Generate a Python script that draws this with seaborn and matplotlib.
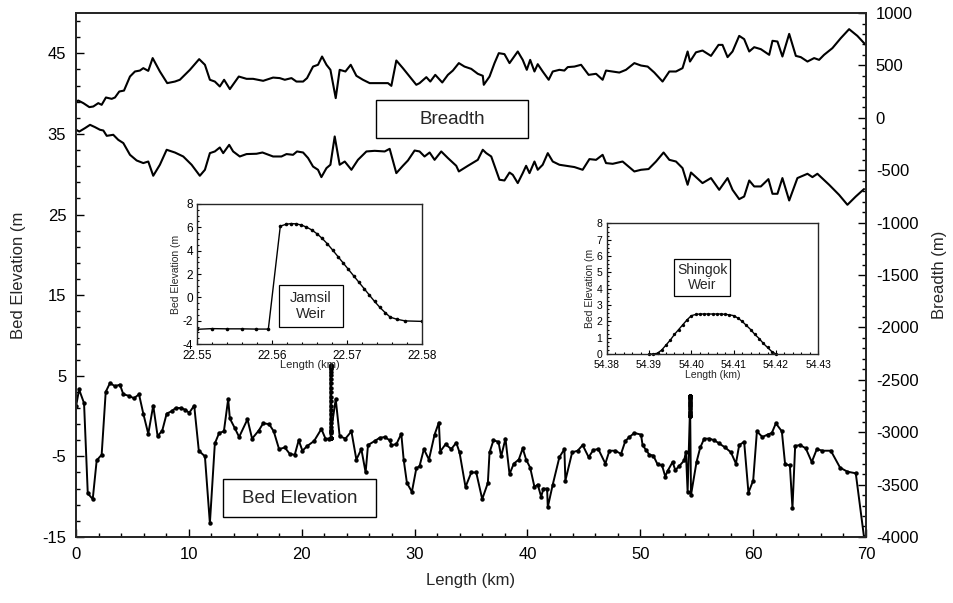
import numpy as np
import pandas as pd
import matplotlib
matplotlib.use("Agg")
import matplotlib.pyplot as plt
from matplotlib.ticker import MultipleLocator, FixedLocator, FormatStrFormatter
from matplotlib.patches import Rectangle
import seaborn as sns

# ---------------- data ----------------
bed_km = [0.0, 0.27, 0.71, 1.04, 1.48, 1.83, 2.27, 2.63, 3.01, 3.45, 3.89, 4.19, 4.72, 5.13, 5.58,
          5.96, 6.40, 6.84, 7.23, 7.64, 8.03, 8.47, 8.82, 9.27, 9.65, 10.03, 10.47, 10.88, 11.42, 11.86,
          12.30, 12.68, 13.10, 13.48, 13.63, 14.07, 14.45, 15.19, 15.60, 16.19, 16.58, 17.11, 17.52, 17.99,
          18.50, 18.94, 19.38, 19.73, 20.06, 20.50, 21.09, 21.74, 22.10, 22.45,
          23.01, 23.36, 23.87, 24.40, 24.84, 25.28, 25.66, 25.87, 26.46, 26.90, 27.35, 27.79, 27.94, 28.38,
          28.82, 29.03, 29.32, 29.76, 30.15, 30.44, 30.82, 31.27, 31.77, 32.15, 32.27, 32.74, 33.25, 33.69,
          33.98, 34.51, 35.02, 35.46, 35.99, 36.49, 36.64, 36.99, 37.43, 37.67, 38.05, 38.41, 38.79, 39.23,
          39.58, 39.88, 40.24, 40.62, 40.91, 41.21, 41.42, 41.74, 41.80, 42.24, 42.83, 43.27, 43.36, 43.96,
          44.45, 44.89, 45.42, 45.84, 46.28, 46.90, 47.26, 47.79, 48.29, 48.67, 49.03, 49.47, 50.06, 50.20,
          50.50, 50.80, 51.15, 51.53, 51.92, 52.21, 52.42, 52.86, 53.10, 53.45, 53.89, 54.04, 54.19,
          54.49, 54.98, 55.31, 55.66, 56.11, 56.55, 56.99, 57.52, 58.03, 58.47, 58.76, 59.20, 59.58, 60.00,
          60.33, 60.82, 61.27, 61.65, 62.01, 62.54, 62.83, 63.25, 63.48, 63.72, 64.16, 64.66, 65.19, 65.64,
          66.13, 66.88, 67.70, 68.35, 69.09, 69.82]
bed_elev = [1.2, 3.3, 1.6, -9.6, -10.3, -5.5, -4.8, 3.0, 4.1, 3.7, 3.9, 2.7, 2.5, 2.2, 2.7,
            0.3, -2.2, 1.3, -2.5, -1.8, 0.3, 0.6, 1.0, 1.0, 0.8, 0.4, 1.3, -4.3, -5.0, -13.3,
            -3.4, -2.1, -1.9, 2.1, -0.3, -1.5, -2.6, -0.4, -2.8, -1.8, -0.9, -1.0, -1.9, -4.1,
            -3.9, -4.7, -4.8, -3.0, -4.3, -3.7, -3.1, -1.6, -2.8, -2.8,
            2.1, -2.5, -2.8, -1.9, -5.4, -4.1, -7.0, -3.6, -3.1, -2.7, -2.6, -3.0, -3.6, -3.5,
            -2.2, -5.4, -8.3, -9.4, -6.5, -6.2, -4.1, -5.4, -2.3, -0.8, -4.4, -3.5, -4.1, -3.3,
            -4.5, -8.8, -7.0, -7.0, -10.3, -8.3, -4.5, -3.0, -3.2, -5.0, -2.8, -7.2, -5.9, -5.4,
            -4.0, -5.4, -6.4, -8.8, -8.5, -10.0, -9.0, -9.0, -11.3, -8.5, -5.1, -4.1, -8.0, -4.5,
            -4.3, -3.6, -5.1, -4.2, -4.1, -5.9, -4.3, -4.3, -4.7, -3.1, -2.6, -2.1, -2.3, -3.6,
            -4.2, -4.8, -4.9, -6.0, -6.1, -7.5, -6.8, -5.7, -6.7, -6.2, -5.5, -4.4, -9.4,
            -9.8, -5.7, -3.9, -2.8, -2.8, -3.0, -3.4, -3.9, -4.5, -5.9, -3.6, -3.2, -9.5, -8.0,
            -1.9, -2.6, -2.3, -2.1, -0.9, -1.9, -6.0, -6.1, -11.4, -3.7, -3.6, -4.0, -5.7, -4.1,
            -4.3, -4.3, -6.4, -6.9, -7.1, -15.0]

jamsil_km = [22.5500, 22.5520, 22.5540, 22.5560, 22.5578, 22.5595, 22.5611, 22.5618, 22.5625, 22.5632,
             22.5639, 22.5646, 22.5653, 22.5660, 22.5667, 22.5674, 22.5681, 22.5688, 22.5695, 22.5702,
             22.5709, 22.5716, 22.5723, 22.5730, 22.5737, 22.5744, 22.5751, 22.5758, 22.5767, 22.5778,
             22.5800]
jamsil_elev = [-2.74, -2.68, -2.70, -2.70, -2.72, -2.72, 6.10, 6.25, 6.32, 6.30,
               6.20, 6.02, 5.78, 5.45, 5.05, 4.58, 4.05, 3.50, 2.95, 2.40,
               1.85, 1.30, 0.75, 0.20, -0.35, -0.85, -1.30, -1.70, -1.88, -2.02,
               -2.06]

shingok_km = [54.3900, 54.3910, 54.3920, 54.3930, 54.3940, 54.3950, 54.3960, 54.3970, 54.3980, 54.3990,
              54.4000, 54.4010, 54.4020, 54.4030, 54.4040, 54.4050, 54.4060, 54.4070, 54.4080, 54.4090,
              54.4100, 54.4110, 54.4120, 54.4130, 54.4140, 54.4150, 54.4160, 54.4170, 54.4180, 54.4190,
              54.4200]
shingok_elev = [0.00, 0.00, 0.05, 0.25, 0.55, 0.85, 1.20, 1.50, 1.80, 2.10,
                2.35, 2.42, 2.45, 2.45, 2.45, 2.45, 2.45, 2.45, 2.43, 2.40,
                2.35, 2.20, 2.00, 1.75, 1.50, 1.20, 0.95, 0.65, 0.40, 0.15,
                0.00]

up_km = [0.0, 0.2, 0.65, 1.18, 1.53, 1.97, 2.27, 2.65, 3.16, 3.45,
         3.83, 4.25, 4.78, 5.22, 5.66, 5.96, 6.40, 6.79, 7.43, 8.08,
         8.76, 9.20, 10.09, 10.91, 11.42, 11.86, 12.30, 12.74, 13.12, 13.63,
         14.42, 15.11, 15.69, 16.58, 17.46, 18.05, 18.50, 19.09, 19.53, 20.12,
         20.47, 21.00, 21.44, 21.80, 22.19, 22.54, 23.01, 23.36, 23.87, 24.34,
         24.84, 25.42, 26.02, 26.90, 27.64, 27.94, 28.38, 28.96, 29.56, 30.15,
         30.44, 31.04, 31.39, 31.83, 32.45, 32.95, 33.39, 33.92, 34.42, 35.02,
         35.60, 36.04, 36.13, 36.64, 37.08, 37.46, 37.96, 38.41, 39.14, 39.58,
         39.94, 40.24, 40.62, 40.91, 41.35, 41.88, 42.24, 42.83, 43.27, 43.57,
         44.16, 44.75, 45.42, 46.08, 46.66, 46.96, 47.55, 48.14, 48.73, 49.47,
         50.06, 50.65, 51.24, 51.97, 52.57, 53.16, 53.74, 54.19, 54.40, 54.93,
         55.51, 56.26, 56.93, 57.28, 57.73, 58.17, 58.76, 59.20, 59.65, 60.09,
         60.68, 61.42, 61.71, 62.15, 62.59, 63.19, 63.78, 64.22, 64.81, 65.40,
         65.84, 66.28, 67.02, 67.76, 68.50, 69.23, 69.97]
up_m = [155, 165, 140, 102, 108, 140, 124, 194, 181, 194,
        251, 260, 394, 442, 451, 474, 448, 570, 442, 331,
        346, 363, 458, 560, 506, 363, 346, 299, 363, 274,
        394, 372, 372, 353, 384, 379, 363, 379, 346, 346,
        379, 489, 506, 585, 506, 458, 188, 458, 442, 506,
        401, 363, 331, 331, 331, 305, 547, 474, 394, 315,
        331, 388, 346, 410, 337, 410, 451, 522, 489, 467,
        420, 401, 315, 394, 522, 617, 608, 522, 633, 553,
        458, 553, 442, 512, 442, 363, 442, 458, 451, 484,
        489, 506, 410, 420, 363, 451, 442, 432, 458, 522,
        499, 489, 432, 346, 442, 442, 474, 633, 537, 625,
        642, 591, 696, 696, 579, 633, 782, 751, 633, 674,
        655, 601, 735, 728, 585, 801, 591, 579, 537, 570,
        553, 601, 665, 760, 846, 782, 696]

lo_km = [0.0, 0.29, 0.80, 1.24, 1.68, 2.12, 2.42, 2.72, 3.30, 3.74,
         4.19, 4.78, 5.37, 5.96, 6.40, 6.84, 7.43, 8.03, 8.76, 9.50,
         10.24, 10.97, 11.42, 11.86, 12.30, 12.74, 13.04, 13.57, 13.92, 14.51,
         15.11, 15.99, 16.52, 17.46, 18.20, 18.65, 19.23, 19.58, 20.12, 20.56,
         21.00, 21.44, 21.74, 22.19, 22.54, 22.92, 23.36, 23.81, 24.40, 24.98,
         25.73, 26.46, 27.35, 27.79, 28.38, 28.96, 29.41, 30.00, 30.44, 30.88,
         31.33, 31.77, 32.36, 32.95, 33.69, 33.92, 34.72, 35.60, 36.04, 36.35,
         36.79, 37.52, 37.96, 38.41, 38.70, 39.14, 39.58, 39.88, 40.18, 40.62,
         40.91, 41.35, 41.80, 42.24, 42.83, 43.42, 44.16, 44.89, 45.49, 46.08,
         46.66, 46.96, 47.55, 48.43, 49.47, 50.06, 50.73, 51.39, 52.06, 52.57,
         53.16, 53.74, 54.19, 54.49, 54.93, 55.51, 56.26, 56.99, 57.73, 58.17,
         58.76, 59.20, 59.65, 60.09, 60.68, 61.35, 61.71, 62.15, 62.59, 63.19,
         63.92, 64.81, 65.25, 65.69, 66.73, 67.61, 68.35, 69.09, 69.82]
lo_m = [-114, -131, -98, -67, -89, -114, -121, -172, -162, -210,
        -241, -353, -407, -432, -417, -553, -448, -305, -331, -369,
        -448, -553, -496, -337, -321, -283, -337, -258, -321, -369,
        -346, -343, -331, -369, -369, -346, -353, -321, -331, -384,
        -465, -496, -566, -480, -448, -178, -448, -417, -496, -401,
        -321, -315, -321, -296, -528, -458, -407, -312, -321, -369,
        -331, -401, -321, -384, -458, -512, -458, -401, -305, -337,
        -369, -591, -598, -522, -544, -623, -528, -458, -528, -417,
        -496, -448, -337, -417, -448, -458, -470, -496, -394, -401,
        -353, -432, -439, -417, -512, -496, -489, -417, -331, -401,
        -417, -480, -639, -522, -566, -623, -575, -687, -575, -687,
        -776, -751, -598, -655, -655, -585, -725, -725, -575, -789,
        -575, -534, -566, -534, -639, -735, -830, -751, -680]

# ---------------- tables ----------------
bed = pd.DataFrame({"km": bed_km + jamsil_km + shingok_km,
                    "elev": bed_elev + jamsil_elev + shingok_elev}).sort_values("km")
upper = pd.DataFrame({"km": up_km, "m": up_m})
lower = pd.DataFrame({"km": lo_km, "m": lo_m})
jam = pd.DataFrame({"km": jamsil_km, "elev": jamsil_elev})
shi = pd.DataFrame({"km": shingok_km, "elev": shingok_elev})

sns.set_theme(style="ticks")
plt.rcParams['font.family'] = ['Liberation Sans', 'DejaVu Sans']
plt.rcParams['axes.linewidth'] = 1.3
plt.rcParams['axes.unicode_minus'] = False

fig = plt.figure(figsize=(9.54, 6.03), dpi=100)
ax = fig.add_axes([0.0797, 0.1095, 0.8281, 0.8689])

sns.lineplot(data=bed, x="km", y="elev", ax=ax, sort=False, estimator=None,
             color="black", linewidth=1.4, marker="o", markersize=3.2,
             markeredgewidth=0, markerfacecolor="black")
ax.set_xlim(0, 70)
ax.set_ylim(-15, 50)
ax.yaxis.set_major_locator(FixedLocator(np.arange(-15, 46, 10)))
ax.yaxis.set_minor_locator(FixedLocator(np.arange(-15, 50, 2)))
ax.xaxis.set_major_locator(MultipleLocator(10))
ax.xaxis.set_minor_locator(MultipleLocator(2))
ax.tick_params(which="both", direction="in", labelsize=12, width=1, colors="black")
ax.tick_params(which="major", length=6, pad=7)
ax.tick_params(which="minor", length=3)
ax.set_xlabel("Length (km)", fontsize=12, labelpad=8)
ax.set_ylabel("Bed Elevation (m", fontsize=12)
ax.yaxis.set_label_coords(-0.063, 0.5)

ax2 = ax.twinx()
sns.lineplot(data=upper, x="km", y="m", ax=ax2, sort=False, estimator=None,
             color="black", linewidth=1.5)
sns.lineplot(data=lower, x="km", y="m", ax=ax2, sort=False, estimator=None,
             color="black", linewidth=1.5)
ax2.set_ylim(-4000, 1000)
ax2.yaxis.set_major_locator(MultipleLocator(500))
ax2.yaxis.set_minor_locator(MultipleLocator(100))
ax2.tick_params(which="both", direction="in", labelsize=12, width=1, colors="black")
ax2.tick_params(which="major", length=6, pad=7)
ax2.tick_params(which="minor", length=3)
ax2.set_ylabel("Breadth (m)", fontsize=12)
ax2.yaxis.set_label_coords(1.083, 0.5)
ax2.set_xlim(0, 70)

# annotation boxes in main axes
for (x0, y0, w, h, label) in [(0.380, 0.761, 0.192, 0.0725, "Breadth"),
                               (0.1857, 0.0376, 0.194, 0.0725, "Bed Elevation")]:
    ax2.add_patch(Rectangle((x0, y0), w, h, transform=ax2.transAxes, facecolor="white",
                            edgecolor="black", linewidth=1.0, zorder=5))
    ax2.text(x0 + w / 2, y0 + h / 2, label, transform=ax2.transAxes, ha="center",
             va="center", fontsize=13.5, zorder=6)

# ---------------- inset: Jamsil ----------------
axj = fig.add_axes([0.2068, 0.4295, 0.2352, 0.2322])
sns.lineplot(data=jam, x="km", y="elev", ax=axj, sort=False, estimator=None,
             color="black", linewidth=1.0, marker="o", markersize=2.6,
             markeredgewidth=0, markerfacecolor="black")
axj.set_xlim(22.55, 22.58)
axj.set_ylim(-4, 8)
axj.xaxis.set_major_locator(FixedLocator([22.55, 22.56, 22.57, 22.58]))
axj.xaxis.set_major_formatter(FormatStrFormatter("%.2f"))
axj.xaxis.set_minor_locator(MultipleLocator(0.002))
axj.yaxis.set_major_locator(MultipleLocator(2))
axj.yaxis.set_minor_locator(MultipleLocator(0.5))
for s in axj.spines.values():
    s.set_linewidth(1.0)
axj.tick_params(which="both", direction="in", colors="black", width=0.8)
axj.tick_params(which="major", length=3)
axj.tick_params(which="minor", length=1.5)
axj.tick_params(axis="x", labelsize=8.5, pad=4)
axj.tick_params(axis="y", labelsize=8.5, pad=3)
axj.set_xlabel("Length (km)", fontsize=8, labelpad=-1)
axj.set_ylabel("Bed Elevation (m", fontsize=7.5, labelpad=1)
axj.add_patch(Rectangle((0.365, 0.119), 0.283, 0.302, transform=axj.transAxes,
                        facecolor="white", edgecolor="black", linewidth=0.9, zorder=5))
axj.text(0.365 + 0.283 / 2, 0.119 + 0.302 / 2, "Jamsil\nWeir", transform=axj.transAxes,
         ha="center", va="center", fontsize=10.5, linespacing=1.15, zorder=6)

# ---------------- inset: Shingok ----------------
axs = fig.add_axes([0.6360, 0.4129, 0.2218, 0.2167])
sns.lineplot(data=shi, x="km", y="elev", ax=axs, sort=False, estimator=None,
             color="black", linewidth=1.0, marker="o", markersize=2.4,
             markeredgewidth=0, markerfacecolor="black", clip_on=False)
axs.set_xlim(54.38, 54.43)
axs.set_ylim(0, 8)
axs.xaxis.set_major_locator(FixedLocator([54.38, 54.39, 54.40, 54.41, 54.42, 54.43]))
axs.xaxis.set_major_formatter(FormatStrFormatter("%.2f"))
axs.xaxis.set_minor_locator(MultipleLocator(0.002))
axs.yaxis.set_major_locator(MultipleLocator(1))
axs.yaxis.set_minor_locator(MultipleLocator(0.25))
for s in axs.spines.values():
    s.set_linewidth(1.0)
axs.tick_params(which="both", direction="in", colors="black", width=0.8)
axs.tick_params(which="major", length=3)
axs.tick_params(which="minor", length=1.5)
axs.tick_params(axis="x", labelsize=7.5, pad=4)
axs.tick_params(axis="y", labelsize=7.5, pad=3)
axs.set_xlabel("Length (km)", fontsize=7.5, labelpad=0)
axs.set_ylabel("Bed Elevation (m", fontsize=7.5, labelpad=1)
axs.add_patch(Rectangle((0.319, 0.446), 0.263, 0.279, transform=axs.transAxes,
                        facecolor="white", edgecolor="black", linewidth=0.9, zorder=5))
axs.text(0.319 + 0.263 / 2, 0.446 + 0.279 / 2, "Shingok\nWeir", transform=axs.transAxes,
         ha="center", va="center", fontsize=10, linespacing=1.15, zorder=6)

fig.savefig("out.png", dpi=100)
